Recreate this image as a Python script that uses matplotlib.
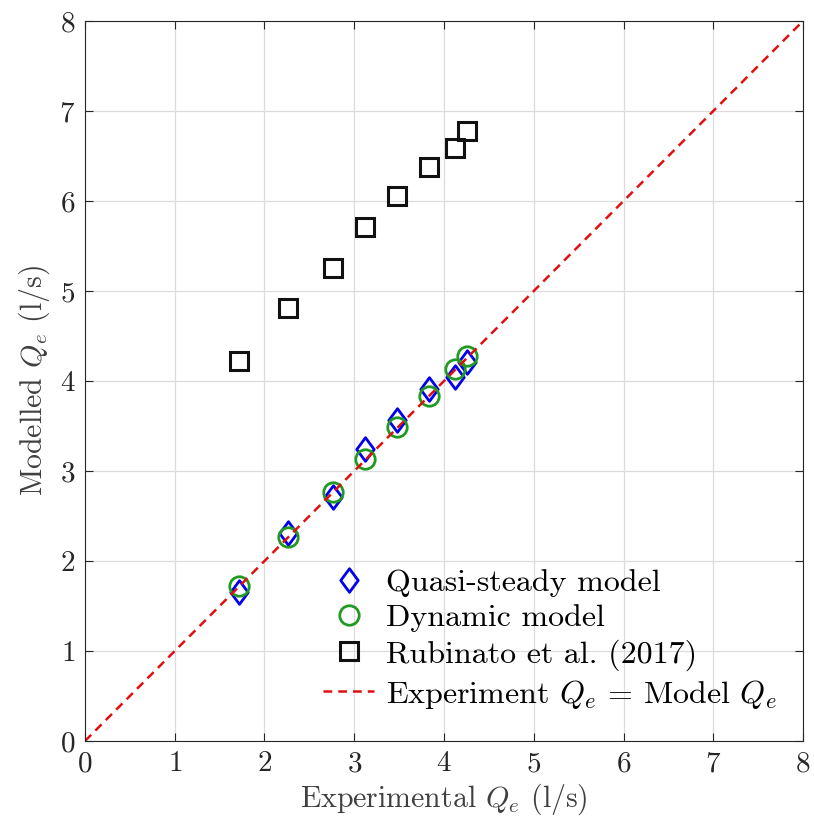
import numpy as np
import matplotlib
matplotlib.use("Agg")
import matplotlib.pyplot as plt
from matplotlib.path import Path

plt.rcParams["font.family"] = "serif"
plt.rcParams["font.serif"] = ["cmr10", "DejaVu Serif"]
plt.rcParams["mathtext.fontset"] = "cm"
plt.rcParams["axes.formatter.use_mathtext"] = True

# experimental discharge (l/s)
q_exp = [1.72, 2.265, 2.76, 3.12, 3.48, 3.83, 4.12, 4.26]
# modelled discharge (l/s)
q_quasi = [1.66, 2.31, 2.71, 3.25, 3.57, 3.91, 4.05, 4.21]
q_dyn = [1.725, 2.27, 2.77, 3.13, 3.49, 3.83, 4.13, 4.28]
q_rubinato = [4.22, 4.81, 5.26, 5.71, 6.06, 6.38, 6.59, 6.78]

ticks = np.arange(0, 9)

# slightly narrow diamond marker
diamond = Path([(0, 1), (0.74, 0), (0, -1), (-0.74, 0), (0, 1)],
               [Path.MOVETO, Path.LINETO, Path.LINETO, Path.LINETO, Path.CLOSEPOLY])

fig = plt.figure(figsize=(8.14, 8.31), dpi=100)
ax = fig.add_axes([0.1044, 0.1083, 0.8821, 0.8664])

ax.plot(q_exp, q_quasi, linestyle="none", marker=diamond, ms=17, mfc="none",
        mec="#0000ee", mew=2.0, label="Quasi-steady model")
ax.plot(q_exp, q_dyn, "o", ms=14, mfc="none", mec="#229922", mew=2.0,
        label="Dynamic model")
ax.plot(q_exp, q_rubinato, "s", ms=13, mfc="none", mec="#111111", mew=2.2,
        label="Rubinato et al. (2017)")
ax.plot([0, 8], [0, 8], "--", color="#e01010", lw=1.8, dashes=(3.5, 2.4),
        label=r"Experiment $Q_e$ = Model $Q_e$")

ax.set_xlim(0, 8)
ax.set_ylim(0, 8)
ax.set_xticks(ticks)
ax.set_yticks(ticks)
ax.grid(True, color="#dcdcdc", lw=0.9)
ax.set_axisbelow(True)
ax.tick_params(direction="in", top=True, right=True, labelsize=21, length=6,
               colors="#262626", pad=7)
for s in ax.spines.values():
    s.set_color("#262626")
    s.set_linewidth(0.8)

ax.set_xlabel(r"Experimental $Q_e$ (l/s)", fontsize=21.5, color="#404040",
              labelpad=3)
ax.set_ylabel(r"Modelled $Q_e$ (l/s)", fontsize=21.5, color="#404040",
              labelpad=5)

ax.legend(loc="lower right", frameon=False, fontsize=23, handlelength=1.6,
          handletextpad=0.35, labelspacing=0.22, borderaxespad=0.55,
          bbox_to_anchor=(1.005, 0.0))

fig.savefig("out.png", dpi=100)
